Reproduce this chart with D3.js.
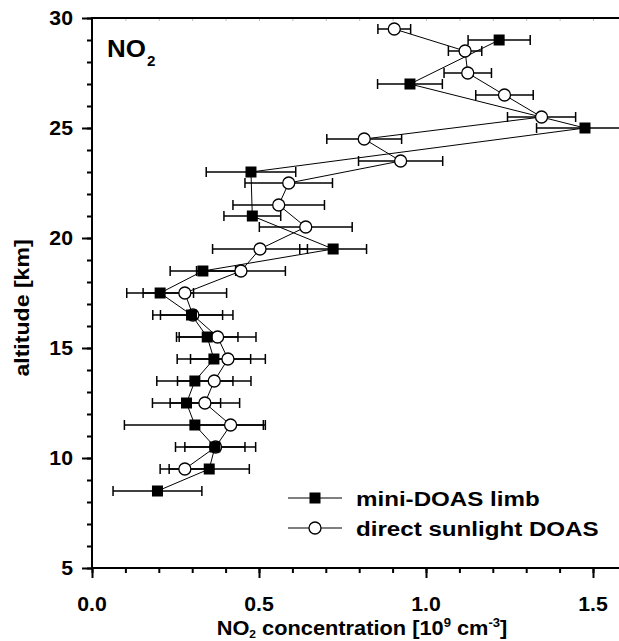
<!DOCTYPE html>
<html>
<head>
<meta charset="utf-8">
<script src="https://cdn.jsdelivr.net/npm/d3@7"></script>
<style>
  html, body { margin: 0; padding: 0; background: #fff; overflow: hidden; }
  text { font-family: "Liberation Sans", Arial, sans-serif; font-weight: bold; fill: #000; }
</style>
</head>
<body>
<svg id="chart" width="619" height="641"></svg>
<script>
// NO2 profile retrieved from the mini-DOAS limb observations
const limbAlt = [29, 27, 25, 23, 21, 19.5, 18.5, 17.5, 16.5, 15.5, 14.5, 13.5, 12.5, 11.5, 10.5, 9.5, 8.5];
const limbNO2 = [1.219, 0.952, 1.476, 0.476, 0.480, 0.722, 0.332, 0.204, 0.298, 0.345, 0.365, 0.308, 0.283, 0.308, 0.368, 0.351, 0.196];
const limbErr = [0.093, 0.097, 0.145, 0.134, 0.085, 0.100, 0.098, 0.100, 0.093, 0.092, 0.110, 0.114, 0.102, 0.211, 0.090, 0.120, 0.133];

// NO2 profile retrieved from the direct sunlight DOAS observations
const sunAlt = [29.5, 28.5, 27.5, 26.5, 25.5, 24.5, 23.5, 22.5, 21.5, 20.5, 19.5, 18.5, 17.5, 16.5, 15.5, 14.5, 13.5, 12.5, 11.5, 10.5, 9.5];
const sunNO2 = [0.905, 1.117, 1.125, 1.235, 1.346, 0.815, 0.924, 0.589, 0.559, 0.640, 0.503, 0.446, 0.278, 0.302, 0.376, 0.407, 0.366, 0.338, 0.415, 0.370, 0.278];
const sunErr = [0.049, 0.050, 0.071, 0.086, 0.102, 0.112, 0.126, 0.131, 0.137, 0.139, 0.142, 0.133, 0.125, 0.120, 0.115, 0.112, 0.110, 0.104, 0.098, 0.120, 0.074];

const xMajorTicks = [0, 0.5, 1.0, 1.5];
const xTickLabels = ["0.0", "0.5", "1.0", "1.5"];
const yMajorTicks = [5, 10, 15, 20, 25, 30];
const yTickLabels = ["5", "10", "15", "20", "25", "30"];
const seriesNames = ["mini-DOAS limb", "direct sunlight DOAS"];

const svg = d3.select("#chart");

const x = d3.scaleLinear().domain([0, 1.6]).range([92, 92 + 1.6 * 334]);
const y = d3.scaleLinear().domain([5, 30]).range([568, 18]);

const limb = limbAlt.map((a, i) => ({ alt: a, v: limbNO2[i], e: limbErr[i] }));
const sun = sunAlt.map((a, i) => ({ alt: a, v: sunNO2[i], e: sunErr[i] }));

// ---- axes ----
const axisG = svg.append("g");

function styleAxis(g) {
  g.select(".domain").remove();
  g.selectAll("text").remove();
  g.selectAll(".tick line").attr("stroke", "#000").attr("stroke-width", 2);
}

// bottom axis: minor every 0.1, major every 0.5
axisG.append("g").attr("transform", `translate(0,${y(5)})`)
  .call(d3.axisBottom(x).tickValues(d3.range(0, 16).map(d => d / 10)).tickSize(5).tickSizeOuter(0))
  .call(styleAxis);
axisG.append("g").attr("transform", `translate(0,${y(5)})`)
  .call(d3.axisBottom(x).tickValues(xMajorTicks).tickSize(10).tickSizeOuter(0))
  .call(styleAxis);

// left axis: minor every 1 km, major every 5 km
axisG.append("g").attr("transform", `translate(${x(0)},0)`)
  .call(d3.axisLeft(y).tickValues(d3.range(5, 31)).tickSize(5).tickSizeOuter(0))
  .call(styleAxis);
axisG.append("g").attr("transform", `translate(${x(0)},0)`)
  .call(d3.axisLeft(y).tickValues(yMajorTicks).tickSize(10).tickSizeOuter(0))
  .call(styleAxis);

// faint ticks along the top frame
axisG.append("g").attr("transform", `translate(0,${y(30)})`)
  .call(d3.axisTop(x).tickValues(d3.range(1, 16).map(d => d / 10)).tickSize(-3).tickSizeOuter(0))
  .call(g => { g.select(".domain").remove(); g.selectAll("text").remove();
               g.selectAll(".tick line").attr("stroke", "#bbb").attr("stroke-width", 1); });

// frame lines
axisG.append("line").attr("x1", x(0)).attr("x2", x(1.6)).attr("y1", y(5)).attr("y2", y(5))
  .attr("stroke", "#000").attr("stroke-width", 2);
axisG.append("line").attr("x1", x(0)).attr("x2", x(1.6)).attr("y1", y(30)).attr("y2", y(30))
  .attr("stroke", "#000").attr("stroke-width", 2);
axisG.append("line").attr("x1", x(0)).attr("x2", x(0)).attr("y1", y(5) + 1).attr("y2", y(30) - 1)
  .attr("stroke", "#000").attr("stroke-width", 2);

// tick labels
const labG = svg.append("g");
xMajorTicks.forEach((t, i) => {
  labG.append("text")
    .attr("transform", `translate(${x(t)},611) scale(1.09,1)`)
    .attr("text-anchor", "middle").attr("font-size", 19.5)
    .text(xTickLabels[i]);
});
yMajorTicks.forEach((t, i) => {
  labG.append("text")
    .attr("transform", `translate(73,${y(t) + 6.5}) scale(1.09,1)`)
    .attr("text-anchor", "end").attr("font-size", 19.5)
    .text(yTickLabels[i]);
});

// axis titles
const xt = labG.append("text")
  .attr("transform", "translate(362,635) scale(1.09,1)")
  .attr("text-anchor", "middle").attr("font-size", 20);
xt.append("tspan").text("NO");
xt.append("tspan").attr("font-size", 11).attr("dy", 3).text("2");
xt.append("tspan").attr("dy", -3).text(" concentration [10");
xt.append("tspan").attr("font-size", 12).attr("dy", -8).text("9");
xt.append("tspan").attr("dy", 8).text(" cm");
xt.append("tspan").attr("font-size", 12).attr("dy", -8).text("-3");
xt.append("tspan").attr("dy", 8).text("]");

labG.append("text")
  .attr("transform", "translate(29,308) rotate(-90) scale(1.1,1)")
  .attr("text-anchor", "middle").attr("font-size", 21)
  .text("altitude [km]");

// species label in the corner
const sp = labG.append("text")
  .attr("transform", "translate(107,57) scale(1.08,1)")
  .attr("font-size", 24);
sp.append("tspan").text("NO");
sp.append("tspan").attr("font-size", 14).attr("dy", 9).attr("dx", 1).text("2");

// ---- data ----
const dataG = svg.append("g");
const line = d3.line().x(d => x(d.v)).y(d => y(d.alt));

function drawErrors(data) {
  const g = dataG.append("g").attr("stroke", "#000").attr("stroke-width", 1.5).attr("fill", "none");
  data.forEach(d => {
    const x0 = x(d.v - d.e), x1 = x(d.v + d.e), yy = y(d.alt);
    g.append("line").attr("x1", x0).attr("x2", x1).attr("y1", yy).attr("y2", yy);
    g.append("line").attr("x1", x0).attr("x2", x0).attr("y1", yy - 5).attr("y2", yy + 5);
    g.append("line").attr("x1", x1).attr("x2", x1).attr("y1", yy - 5).attr("y2", yy + 5);
  });
}

drawErrors(sun);
drawErrors(limb);

dataG.append("path").datum(sun).attr("d", line)
  .attr("fill", "none").attr("stroke", "#000").attr("stroke-width", 1);
dataG.append("path").datum(limb).attr("d", line)
  .attr("fill", "none").attr("stroke", "#000").attr("stroke-width", 1);

dataG.selectAll("circle.sun").data(sun).join("circle")
  .attr("class", "sun")
  .attr("cx", d => x(d.v)).attr("cy", d => y(d.alt)).attr("r", 6)
  .attr("fill", "#fff").attr("stroke", "#000").attr("stroke-width", 1.3);

dataG.selectAll("rect.limb").data(limb).join("rect")
  .attr("class", "limb")
  .attr("x", d => x(d.v) - 5.5).attr("y", d => y(d.alt) - 5.5)
  .attr("width", 11).attr("height", 11).attr("fill", "#000");

// ---- legend ----
const legG = svg.append("g");
const legRows = [498, 528];
seriesNames.forEach((name, i) => {
  const yy = legRows[i];
  legG.append("line").attr("x1", 288).attr("x2", 342).attr("y1", yy).attr("y2", yy)
    .attr("stroke", "#555").attr("stroke-width", 1.5);
  if (i === 0) {
    legG.append("rect").attr("x", 315 - 5.5).attr("y", yy - 5.5)
      .attr("width", 11).attr("height", 11).attr("fill", "#000");
  } else {
    legG.append("circle").attr("cx", 315).attr("cy", yy).attr("r", 6)
      .attr("fill", "#fff").attr("stroke", "#000").attr("stroke-width", 1.3);
  }
  legG.append("text")
    .attr("transform", `translate(356,${yy + 8}) scale(1.15,1)`)
    .attr("font-size", 21)
    .text(name);
});
</script>
</body>
</html>
